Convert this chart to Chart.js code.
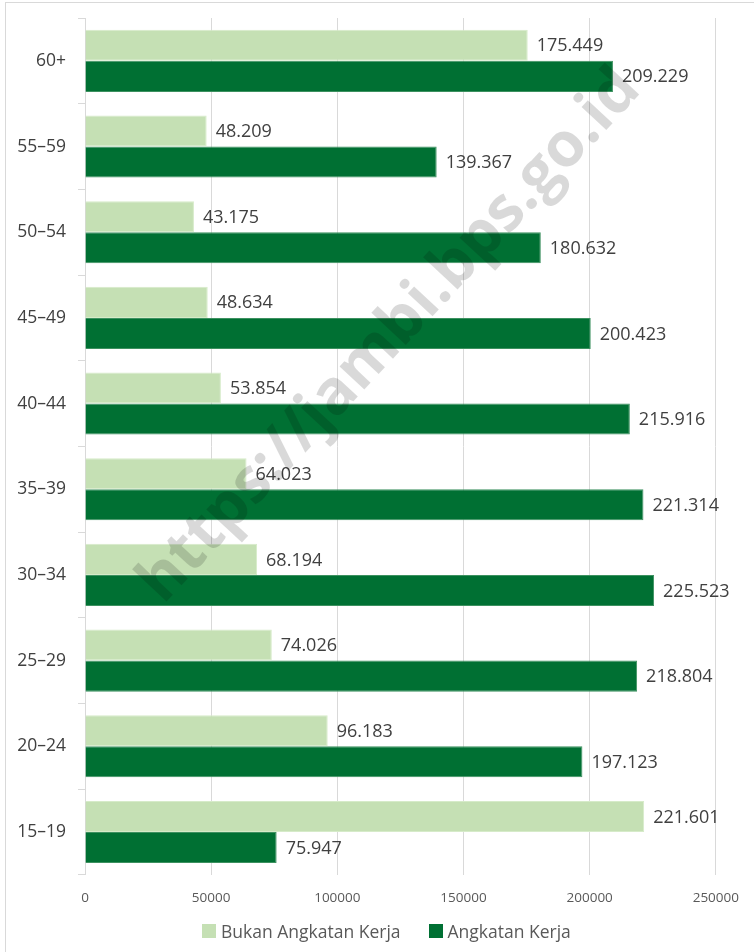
<!DOCTYPE html>
<html>
<head>
<meta charset="utf-8">
<script src="https://cdn.jsdelivr.net/npm/chart.js@4"></script>
<style>
  html, body { margin: 0; padding: 0; background: #fff; overflow: hidden; }
  #frame { position: absolute; left: 5px; top: 2px; width: 800px; height: 1000px;
           border-left: 1px solid #d9d9d9; border-top: 1px solid #d9d9d9; }
  #wrap { position: absolute; left: 0; top: 0; width: 754px; height: 952px; }
  #legend { position: absolute; left: 202px; top: 919px; display: flex; align-items: center;
            font-family: 'Open Sans', 'Noto Sans', sans-serif; font-size: 17.5px; color: #595959; }
  #legend .item { display: flex; align-items: center; margin-right: 28px; white-space: nowrap; }
  #legend .box { width: 14px; height: 14px; margin-right: 5px; }
</style>
</head>
<body>
<div id="frame"></div>
<div id="wrap"><canvas id="chart"></canvas></div>
<div id="legend"></div>
<script>
// data
const ageGroups = ["60+", "55–59", "50–54", "45–49", "40–44", "35–39", "30–34", "25–29", "20–24", "15–19"];
const bukanAngkatan = [175449, 48209, 43175, 48634, 53854, 64023, 68194, 74026, 96183, 221601];
const angkatanKerja = [209229, 139367, 180632, 200423, 215916, 221314, 225523, 218804, 197123, 75947];
const xTicks = [0, 50000, 100000, 150000, 200000, 250000];

const FONT = "'Open Sans', 'Noto Sans', sans-serif";

function fmt(v) {
  return String(v).replace(/\B(?=(\d{3})+(?!\d))/g, ".");
}

// value labels next to bars
const valueLabels = {
  id: "valueLabels",
  afterDatasetsDraw(chart) {
    const ctx = chart.ctx;
    ctx.save();
    ctx.font = "18px " + FONT;
    ctx.fillStyle = "#404040";
    ctx.textAlign = "left";
    ctx.textBaseline = "middle";
    chart.data.datasets.forEach((ds, i) => {
      chart.getDatasetMeta(i).data.forEach((bar, j) => {
        ctx.fillText(fmt(ds.data[j]), bar.x + 9, bar.y + 1);
      });
    });
    ctx.restore();
  }
};

// watermark
const watermark = {
  id: "watermark",
  afterDatasetsDraw(chart) {
    const ctx = chart.ctx;
    ctx.save();
    ctx.translate(390, 336);
    ctx.rotate(-47 * Math.PI / 180);
    ctx.font = "bold 62px " + FONT;
    ctx.fillStyle = "rgba(0,0,0,0.15)";
    ctx.textAlign = "center";
    ctx.textBaseline = "middle";
    ctx.fillText("https://jambi.bps.go.id", 0, 0);
    ctx.restore();
  }
};

// html legend
const htmlLegend = {
  id: "htmlLegend",
  afterUpdate(chart) {
    const box = document.getElementById("legend");
    box.innerHTML = "";
    chart.data.datasets.forEach(ds => {
      const item = document.createElement("div");
      item.className = "item";
      const sw = document.createElement("span");
      sw.className = "box";
      sw.style.background = ds.backgroundColor;
      const txt = document.createElement("span");
      txt.textContent = ds.label;
      item.appendChild(sw);
      item.appendChild(txt);
      box.appendChild(item);
    });
  }
};

new Chart(document.getElementById("chart"), {
  type: "bar",
  data: {
    labels: ageGroups,
    datasets: [
      {
        label: "Bukan Angkatan Kerja",
        data: bukanAngkatan,
        backgroundColor: "#c5e0b4",
        borderColor: "#d6ebc9",
        borderWidth: 1
      },
      {
        label: "Angkatan Kerja",
        data: angkatanKerja,
        backgroundColor: "#007033",
        borderColor: "#3d9160",
        borderWidth: 1
      }
    ]
  },
  options: {
    indexAxis: "y",
    responsive: true,
    maintainAspectRatio: false,
    animation: false,
    categoryPercentage: 0.725,
    barPercentage: 1.0,
    layout: { padding: { left: 0, right: 27, top: 18, bottom: 31 } },
    plugins: {
      legend: { display: false },
      tooltip: { enabled: false }
    },
    scales: {
      x: {
        min: 0,
        max: 250000,
        afterBuildTicks(axis) {
          axis.ticks = xTicks.map(v => ({ value: v }));
        },
        border: { display: false },
        grid: { color: "#d9d9d9", drawTicks: false },
        ticks: {
          color: "#595959",
          padding: 15,
          font: { family: FONT, size: 13.5 },
          callback: v => String(v)
        }
      },
      y: {
        afterFit(axis) { axis.width = 85; axis.paddingTop = 0; },
        border: { display: true, color: "#d9d9d9" },
        grid: { offset: true, drawOnChartArea: false, color: "#d9d9d9", tickLength: 7 },
        ticks: {
          color: "#404040",
          padding: 12,
          font: { family: FONT, size: 17.5 }
        }
      }
    }
  },
  plugins: [valueLabels, watermark, htmlLegend]
});
</script>
</body>
</html>
